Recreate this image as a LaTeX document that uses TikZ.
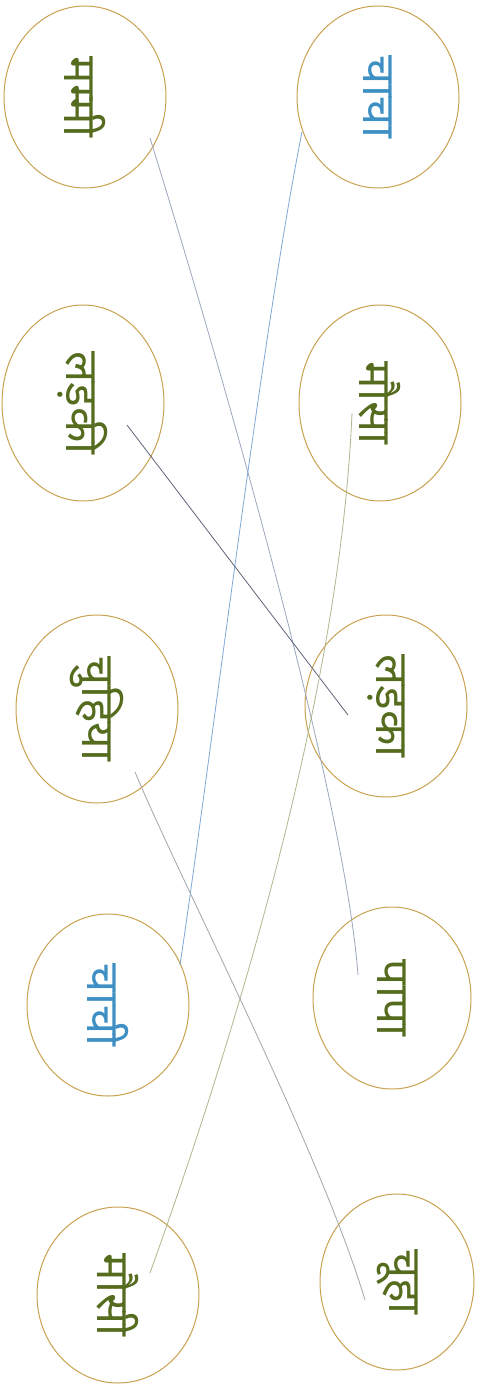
\documentclass[tikz,border=0pt]{standalone}
\usepackage{fontspec}
\newfontfamily\hindi[Script=Devanagari]{Noto Sans}
\usetikzlibrary{shapes.geometric}
\definecolor{ringcol}{HTML}{C9A250}
\definecolor{inkgreen}{HTML}{556B1E}
\definecolor{inkblue}{HTML}{3E8FC4}
\definecolor{pencilA}{HTML}{9CA6BE}
\definecolor{pencilB}{HTML}{7FA8D8}
\definecolor{pencilC}{HTML}{5E6479}
\definecolor{pencilD}{HTML}{AEB88E}
\definecolor{pencilE}{HTML}{A0A4AE}
\tikzset{
  word/.style={ellipse, draw=ringcol, line width=1pt, rotate=-90,
    minimum width=182pt, minimum height=162pt, inner sep=0pt,
    text=inkgreen, font=\hindi\fontsize{46}{46}\selectfont},
  link/.style={line width=0.8pt}
}
\begin{document}
\begin{tikzpicture}[x=1pt,y=-1pt]
    \path[use as bounding box, fill=white] (0,0) rectangle (481,1396);
    \node[word] (mummy) at (85,97) {मम्मी};
    \node[word, minimum width=196pt] (ladki) at (83,403) {लड़की};
    \node[word, minimum width=188pt] (chuhiya) at (97,709) {चुहिया};
    \node[word, text=inkblue] (chachi) at (108,1005) {चाची};
    \node[word, minimum width=176pt] (mausi) at (118,1295) {मौसी};
    \node[word, text=inkblue] (chacha) at (378,97) {चाचा};
    \node[word, minimum width=196pt] (mausa) at (380,403) {मौसा};
    \node[word] (ladka) at (386,706) {लड़का};
    \node[word, minimum height=158pt] (papa) at (392,998) {पापा};
    \node[word, minimum width=176pt, minimum height=154pt] (chuha) at (397,1282) {चूहा};

    \coordinate (mummy-end) at ([shift={(65,41)}]mummy.center);
    \coordinate (papa-end) at ([shift={(-34,-23)}]papa.center);
    \coordinate (chacha-end) at ([shift={(-76,35)}]chacha.center);
    \coordinate (chachi-end) at ([shift={(72,-40)}]chachi.center);
    \coordinate (ladki-end) at ([shift={(44,22)}]ladki.center);
    \coordinate (ladka-end) at ([shift={(-38,9)}]ladka.center);
    \coordinate (mausa-end) at ([shift={(-28,10)}]mausa.center);
    \coordinate (mausi-end) at ([shift={(32,-22)}]mausi.center);
    \coordinate (chuhiya-end) at ([shift={(38,63)}]chuhiya.center);
    \coordinate (chuha-end) at ([shift={(-32,18)}]chuha.center);

    \draw[link, pencilA] (mummy-end) .. controls +(75,242) and +(-13,-175) .. (papa-end);
    \draw[link, pencilB] (chacha-end) .. controls +(-40,200) and +(30,-200) .. (chachi-end);
    \draw[link, pencilC] (ladki-end) -- (ladka-end);
    \draw[link, pencilD] (mausa-end) .. controls +(-12,287) and +(80,-223) .. (mausi-end);
    \draw[link, pencilE] (chuhiya-end) .. controls +(45,108) and +(-45,-150) .. (chuha-end);
\end{tikzpicture}
\end{document}
